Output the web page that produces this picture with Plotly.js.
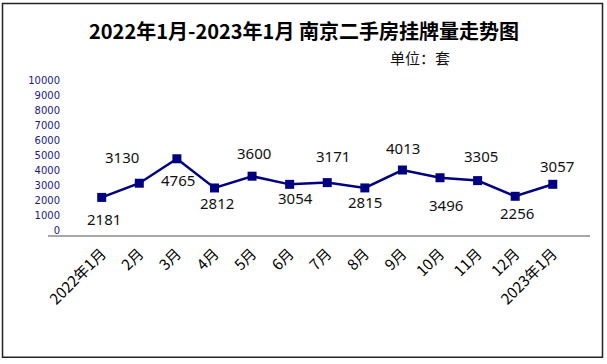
<!DOCTYPE html>
<html>
<head>
<meta charset="utf-8">
<script src="https://cdn.plot.ly/plotly-3.0.1.min.js"></script>
<style>
html,body{margin:0;padding:0;background:#fff;}
#chart{width:607px;height:364px;}
</style>
</head>
<body>
<div id="chart"></div>
<script>
// ---- data ----
var months = ['2022年1月','2月','3月','4月','5月','6月','7月','8月','9月','10月','11月','12月','2023年1月'];
var listings = [2181, 3130, 4765, 2812, 3600, 3054, 3171, 2815, 4013, 3496, 3305, 2256, 3057];
var titleText = '2022年1月-2023年1月 南京二手房挂牌量走势图';
var unitText = '单位：套';

// ---- styling (label offsets in px, positive = below) ----
var labelDy = [22, -26, 21, 15, -23, 14, -27, 14, -22, 27, -25, 17, -18];
var labelDx = [2, -17, 1, 3, 2, 6, 6, 0, 1, 6, 3, 2, 4];
var W = 607, H = 364;
var L = 61, R = 590, T = 78.5, B = 236.5;
var navy = '#000080';

var trace = {
  x: months,
  y: listings,
  type: 'scatter',
  mode: 'lines+markers',
  line: {color: navy, width: 2.5},
  marker: {symbol: 'square', size: 9, color: navy},
  cliponaxis: false,
  hoverinfo: 'none'
};

var pw = R - L, ph = B - T;
function px2x(p){ return (p - L) / pw; }
function py2y(p){ return (B - p) / ph; }

var annotations = listings.map(function(v, i){
  return {
    x: months[i], y: v, xref: 'x', yref: 'y',
    text: String(v), showarrow: false,
    xanchor: 'center', yanchor: 'middle',
    xshift: labelDx[i], yshift: -labelDy[i],
    font: {family: 'Noto Sans, DejaVu Sans, sans-serif', size: 15, color: '#111'}
  };
});
annotations.push({
  text: unitText, showarrow: false,
  xref: 'paper', yref: 'paper',
  x: px2x(420), y: py2y(56.7), xanchor: 'center', yanchor: 'middle',
  font: {family: 'Noto Sans CJK SC, sans-serif', size: 15, color: '#111'}
});

var layout = {
  width: W, height: H,
  margin: {l: L, r: W - R, t: T, b: H - B, pad: 0},
  paper_bgcolor: '#fff', plot_bgcolor: '#fff',
  showlegend: false,
  title: {
    text: titleText,
    font: {family: 'Noto Sans CJK SC, sans-serif', size: 20, color: '#000', weight: 600},
    x: 304 / W, xanchor: 'center', xref: 'container',
    y: 1 - 31.5 / H, yanchor: 'middle', yref: 'container'
  },
  xaxis: {
    type: 'category',
    range: [-1.083, 12.99],
    showgrid: false, zeroline: false, showline: false, ticks: '',
    tickangle: -45,
    ticklabelstandoff: 5,
    tickfont: {family: 'Noto Sans CJK SC, sans-serif', size: 15, color: '#000'},
    fixedrange: true
  },
  yaxis: {
    range: [-400, 10100],
    dtick: 1000, tick0: 0, tickformat: 'd',
    showgrid: false, zeroline: false, showline: false, ticks: '',
    tickfont: {family: 'DejaVu Sans, sans-serif', size: 10, color: '#1a1a80'},
    fixedrange: true
  },
  annotations: annotations,
  shapes: [
    {type: 'line', xref: 'paper', yref: 'paper', x0: px2x(48), x1: px2x(590), y0: py2y(236.5), y1: py2y(236.5),
     line: {color: '#a6a6a6', width: 2}},
    {type: 'rect', xref: 'paper', yref: 'paper', x0: px2x(2.5), x1: px2x(602.5), y0: py2y(2.5), y1: py2y(358.5),
     line: {color: '#222', width: 1.5}, fillcolor: 'rgba(0,0,0,0)'}
  ]
};

Plotly.newPlot('chart', [trace], layout, {staticPlot: true, displayModeBar: false});
</script>
</body>
</html>
